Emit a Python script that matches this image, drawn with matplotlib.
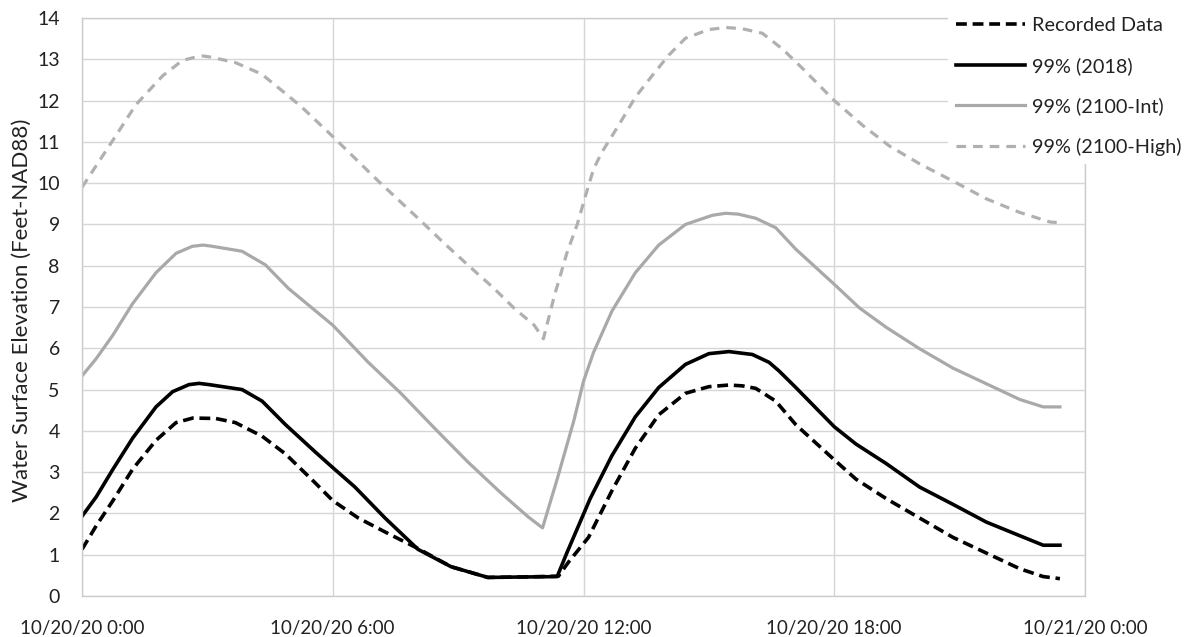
import matplotlib
matplotlib.use("Agg")
from matplotlib import pyplot as plt

plt.rcParams['font.family'] = ['Lato', 'DejaVu Sans']

# hours after 10/20/20 0:00
rec_hours = [0, 0.34, 0.74, 1.21, 1.77, 2.25, 2.65, 3.2, 3.67, 4.31, 4.87, 5.58, 6.0, 6.61, 7.33,
             8.04, 8.83, 9.71, 10.5, 11.4, 11.64, 12.12, 12.68, 13.24, 13.8, 14.44, 15.0, 15.48, 15.8,
             16.12, 16.6, 17.08, 18.0, 18.52, 19.24, 20.04, 20.84, 21.64, 22.44, 23.0, 23.4]
rec_level = [1.13, 1.7, 2.31, 3.07, 3.77, 4.2, 4.31, 4.3, 4.2, 3.87, 3.44, 2.74, 2.31, 1.89, 1.51,
             1.15, 0.71, 0.45, 0.46, 0.48, 0.82, 1.42, 2.55, 3.58, 4.39, 4.91, 5.07, 5.11, 5.09,
             5.03, 4.72, 4.15, 3.3, 2.83, 2.36, 1.89, 1.42, 1.04, 0.66, 0.47, 0.42]

p2018_hours = [0, 0.34, 0.74, 1.21, 1.77, 2.17, 2.56, 2.8, 3.04, 3.83, 4.31, 4.87, 5.58, 6.0, 6.53, 7.25,
               8.04, 8.83, 9.71, 10.5, 11.37, 11.6, 12.16, 12.68, 13.24, 13.8, 14.44, 15.0, 15.48,
               16.04, 16.44, 16.68, 17.08, 18.0, 18.52, 19.24, 20.04, 20.84, 21.64, 22.44, 23.0, 23.4]
p2018_level = [1.93, 2.4, 3.07, 3.82, 4.58, 4.95, 5.12, 5.15, 5.12, 5.0, 4.72, 4.15, 3.49, 3.11, 2.64, 1.89,
               1.13, 0.71, 0.45, 0.46, 0.47, 1.04, 2.36, 3.4, 4.34, 5.05, 5.61, 5.87, 5.92,
               5.85, 5.66, 5.45, 5.05, 4.1, 3.68, 3.21, 2.64, 2.22, 1.79, 1.46, 1.23, 1.23]

pint_hours = [0, 0.34, 0.74, 1.21, 1.77, 2.25, 2.64, 2.9, 3.12, 3.83, 4.39, 4.94, 6.0, 6.85, 7.64, 8.44,
              9.23, 10.02, 10.66, 11.02, 11.37, 11.77, 12.0, 12.24, 12.68, 13.24, 13.8, 14.44,
              15.08, 15.4, 15.7, 16.12, 16.6, 17.08, 18.0, 18.6, 19.24, 20.04, 20.84, 21.64, 22.44, 23.0, 23.4]
pint_level = [5.33, 5.75, 6.32, 7.08, 7.83, 8.3, 8.47, 8.5, 8.47, 8.35, 8.02, 7.45, 6.56, 5.66, 4.9, 4.06,
              3.25, 2.5, 1.93, 1.65, 2.83, 4.25, 5.2, 5.9, 6.9, 7.83, 8.5, 9.0,
              9.22, 9.27, 9.25, 9.15, 8.92, 8.4, 7.55, 6.98, 6.51, 5.99, 5.52, 5.14, 4.76, 4.58, 4.58]

phigh_hours = [0, 0.74, 1.29, 1.93, 2.4, 2.7, 2.9, 3.1, 3.67, 4.3, 4.87, 5.26, 6.0, 7.09, 8.04, 8.67,
               9.23, 9.86, 10.33, 10.82, 11.04, 11.3, 11.6, 11.85, 12.05, 12.24, 12.44, 12.84,
               13.24, 13.64, 14.04, 14.44, 15.0, 15.4, 15.8, 16.28, 16.76, 17.24, 18.0, 18.68, 19.32,
               20.04, 20.84, 21.64, 22.44, 23.16, 23.4]
phigh_level = [9.9, 11.04, 11.9, 12.6, 12.97, 13.05, 13.08, 13.05, 12.92, 12.64, 12.17, 11.84, 11.13, 10.05, 9.15, 8.54,
               8.02, 7.45, 6.98, 6.56, 6.23, 7.26, 8.3, 9.0, 9.7, 10.34, 10.75, 11.4,
               12.08, 12.6, 13.1, 13.51, 13.72, 13.77, 13.74, 13.63, 13.25, 12.78, 12.0, 11.4, 10.9,
               10.47, 10.05, 9.62, 9.29, 9.06, 9.04]

tick_hours = [0, 6, 12, 18, 24]
tick_labels = ['10/20/20 0:00', '10/20/20 6:00', '10/20/20 12:00', '10/20/20 18:00', '10/21/20 0:00']

W, H = 1190, 637
fig = plt.figure(figsize=(W / 100, H / 100), dpi=100)
ax = fig.add_axes([82 / W, 1 - 596 / H, (1085 - 82) / W, (596 - 18) / H])

ax.plot(rec_hours, rec_level, color='black', lw=2.6, ls=(0, (3.0, 1.6)), label='Recorded Data')
ax.plot(p2018_hours, p2018_level, color='black', lw=2.6, label='99% (2018)')
ax.plot(pint_hours, pint_level, color='#a9a9a9', lw=2.3, label='99% (2100-Int)')
ax.plot(phigh_hours, phigh_level, color='#b0b0b0', lw=2.3, ls=(0, (3.0, 2.2)), label='99% (2100-High)')

ax.set_xlim(0, 24)
ax.set_ylim(0, 14)
ax.set_yticks(range(0, 15))
ax.set_xticks(tick_hours)
ax.set_xticklabels(tick_labels)
ax.grid(True, color='#d6d6d6', lw=1)
ax.set_axisbelow(True)
for s in ax.spines.values():
    s.set_color('#cccccc')
    s.set_linewidth(1)
ax.tick_params(length=0, labelsize=14, colors='#222222')
ax.tick_params(axis='y', pad=16)
ax.tick_params(axis='x', pad=17, labelsize=13.5)
ax.set_ylabel('Water Surface Elevation (Feet-NAD88)', fontsize=16, color='#222222')
ax.yaxis.set_label_coords(-0.05, 0.495)

leg = ax.legend(loc='upper left', bbox_to_anchor=(948 / W, 1 - 9 / H), bbox_transform=fig.transFigure,
                borderaxespad=0, borderpad=0.4, frameon=True, fancybox=False, fontsize=14.3,
                handlelength=3.5, handletextpad=0.35, labelspacing=1.15)
leg.get_frame().set_facecolor('white')
leg.get_frame().set_edgecolor('none')
leg.get_frame().set_alpha(1)
for t in leg.get_texts():
    t.set_color('#222222')

fig.savefig('out.png', dpi=100)
